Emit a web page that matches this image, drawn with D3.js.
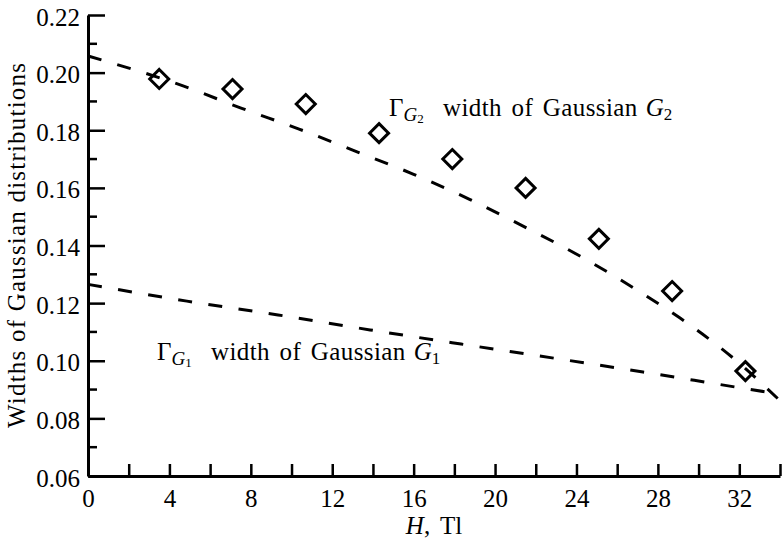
<!DOCTYPE html>
<html>
<head>
<meta charset="utf-8">
<script src="https://cdn.jsdelivr.net/npm/d3@7"></script>
<style>
    body { margin: 0; background: #fff; }
    text { font-family: 'Liberation Serif', 'DejaVu Serif', serif; fill: #000; }
</style>
</head>
<body>
<script>
// measured widths (diamonds) and the two dashed fit curves
const fieldH = [3.5, 7.1, 10.7, 14.3, 17.9, 21.5, 25.1, 28.7, 32.3];
const widthG2 = [0.1978, 0.1943, 0.1891, 0.1790, 0.1700, 0.1600, 0.1423, 0.1242, 0.0964];

const fitG2H = [0, 4.67, 7.52, 10.37, 13.22, 15.97, 18.72, 21.47, 24.08, 26.73, 29.09, 31.69, 33.9];
const fitG2 = [0.2058, 0.1954, 0.1877, 0.1804, 0.1725, 0.1648, 0.1561, 0.1464, 0.1367, 0.1256, 0.1148, 0.1010, 0.0868];

const fitG1H = [0, 4.86, 9.34, 13.86, 18.33, 22.80, 27.27, 31.79, 33.9];
const fitG1 = [0.1265, 0.1207, 0.1159, 0.1107, 0.1058, 0.1010, 0.0961, 0.0909, 0.0885];

const xTicks = d3.range(0, 35, 2);
const xLabels = [0, 4, 8, 12, 16, 20, 24, 28, 32];
const yMajor = [0.06, 0.08, 0.10, 0.12, 0.14, 0.16, 0.18, 0.20, 0.22];
const yMinor = [0.07, 0.09, 0.11, 0.13, 0.15, 0.17, 0.19, 0.21];

const W = 783, H = 540;
const margin = { top: 15, right: 3, bottom: 64, left: 88 };

const svg = d3.select('body')
    .append('svg')
    .attr('width', W)
    .attr('height', H);

const x = d3.scaleLinear().domain([0, 34]).range([margin.left, W - margin.right]);
const y = d3.scaleLinear().domain([0.06, 0.22]).range([H - margin.bottom, margin.top]);

// x axis: inward ticks every 2, labels every 4
const xAxis = svg.append('g')
    .attr('transform', `translate(0,${y(0.06)})`)
    .call(d3.axisBottom(x).tickValues(xTicks).tickSizeInner(-12).tickSizeOuter(0)
        .tickFormat(d => xLabels.includes(d) ? d : ''));
xAxis.select('.domain').attr('stroke-width', 3);
xAxis.selectAll('.tick line').attr('stroke-width', 2.5);
xAxis.selectAll('.tick text')
    .attr('y', 31)
    .attr('dy', 0)
    .style('font-size', '25px');

// y axis: long major and short minor ticks pointing right
const yAxis = svg.append('g')
    .attr('transform', `translate(${x(0)},0)`)
    .call(d3.axisLeft(y).tickValues(yMajor).tickSizeInner(-17).tickSizeOuter(0)
        .tickFormat(d3.format('.2f')));
yAxis.select('.domain').attr('stroke-width', 3);
yAxis.selectAll('.tick line').attr('stroke-width', 2.5);
yAxis.selectAll('.tick text')
    .attr('x', -8)
    .attr('dy', '0.4em')
    .style('font-size', '25px');

svg.append('g')
    .selectAll('line')
    .data(yMinor)
    .enter().append('line')
    .attr('x1', x(0))
    .attr('x2', x(0) + 9)
    .attr('y1', d => y(d))
    .attr('y2', d => y(d))
    .attr('stroke', '#000')
    .attr('stroke-width', 2.5);

// dashed fits
const line = d3.line()
    .x(d => x(d[0]))
    .y(d => y(d[1]))
    .curve(d3.curveMonotoneX);

[[fitG2H, fitG2], [fitG1H, fitG1]].forEach(([hs, vs]) => {
    svg.append('path')
        .datum(hs.map((h, i) => [h, vs[i]]))
        .attr('d', line)
        .attr('fill', 'none')
        .attr('stroke', '#000')
        .attr('stroke-width', 3)
        .attr('stroke-dasharray', '14,16.5');
});

// diamonds
const diamond = 'M0,-9.5L9.5,0L0,9.5L-9.5,0Z';
svg.append('g')
    .selectAll('path')
    .data(fieldH.map((h, i) => [h, widthG2[i]]))
    .enter().append('path')
    .attr('d', diamond)
    .attr('transform', d => `translate(${x(d[0])},${y(d[1])})`)
    .attr('fill', 'none')
    .attr('stroke', '#000')
    .attr('stroke-width', 3);

// annotations
function gammaLabel(px, py, n) {
    const t = svg.append('text')
        .attr('x', px)
        .attr('y', py)
        .style('font-size', '25px');
    t.append('tspan').text('Γ');
    t.append('tspan').attr('dy', 5).style('font-size', '19px').style('font-style', 'italic').text('G');
    t.append('tspan').attr('dy', 2).style('font-size', '13px').text(n);
    t.append('tspan')
        .attr('x', px + 54)
        .attr('y', py)
        .style('letter-spacing', '0.4px')
        .style('word-spacing', '3px')
        .text('width of Gaussian');
    t.append('tspan').attr('dx', 8).style('font-style', 'italic').text('G');
    t.append('tspan').attr('dy', 4).style('font-size', '17px').text(n);
}
gammaLabel(389, 116, '2');
gammaLabel(157, 360, '1');

// axis titles
const xt = svg.append('text')
    .attr('x', (x(0) + x(34)) / 2)
    .attr('y', 534)
    .attr('text-anchor', 'middle')
    .style('font-size', '25px');
xt.append('tspan').style('font-style', 'italic').text('H');
xt.append('tspan').style('word-spacing', '4px').text(', Tl');

svg.append('text')
    .attr('transform', `translate(25,${(y(0.06) + y(0.22)) / 2}) rotate(-90)`)
    .attr('text-anchor', 'middle')
    .attr('textLength', 365)
    .style('font-size', '25px')
    .text('Widths of Gaussian distributions');
</script>
</body>
</html>
